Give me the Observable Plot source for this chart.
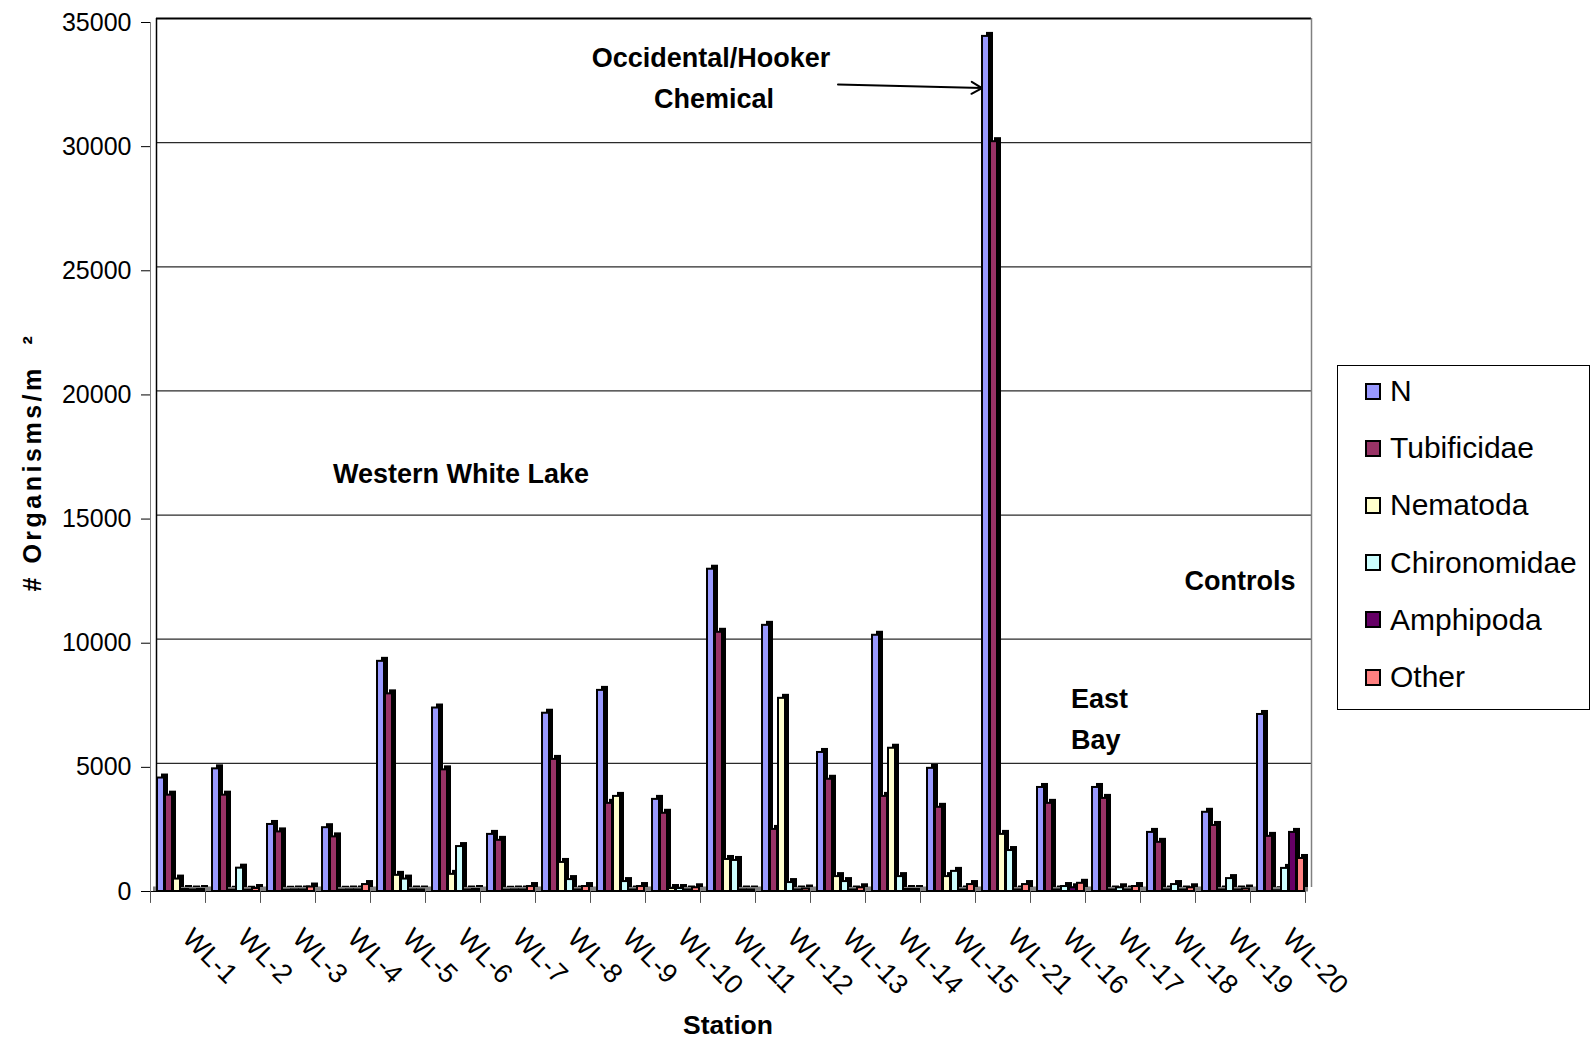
<!DOCTYPE html>
<html>
<head>
<meta charset="utf-8">
<script src="https://cdn.jsdelivr.net/npm/d3@7"></script>
<script src="https://cdn.jsdelivr.net/npm/@observablehq/plot@0.6"></script>
<style>
  body { margin: 0; background: #fff; font-family: "Liberation Sans", Arial, sans-serif; }
  #chart { position: relative; width: 1591px; height: 1048px; overflow: hidden; }
  #legend { position: absolute; left: 1337px; top: 365px; width: 253px; height: 345px;
            border: 1px solid #000; box-sizing: border-box; background: #fff; }
  .item { position: absolute; left: 0; height: 40px; display: flex; align-items: center; }
  .swatch { width: 12px; height: 13px; border: 2px solid #000; margin-left: 27px; margin-right: 9px; }
  .name { font-size: 30px; color: #000; line-height: 1; }
</style>
</head>
<body>
<div id="chart"><div id="legend"></div></div>
<script>
// Sampling stations, in the order they appear along the shoreline
const stations = ["WL-1", "WL-2", "WL-3", "WL-4", "WL-5", "WL-6", "WL-7", "WL-8", "WL-9", "WL-10",
  "WL-11", "WL-12", "WL-13", "WL-14", "WL-15", "WL-21", "WL-16", "WL-17", "WL-18", "WL-19", "WL-20"];

// Benthic densities, organisms per square metre
const totalN =       [4570, 4940, 2700, 2570, 9270, 7390, 2300, 7180, 8100, 3710, 12980, 10720, 5600, 10320, 4960, 34440, 4190, 4190, 2380, 3190, 7130];
const tubificidae =  [3880, 3880, 2400, 2200, 7960, 4900, 2060, 5320, 3550, 3150, 10440, 2500, 4520, 3830, 3390, 30200, 3550, 3750, 1980, 2660, 2220];
const nematoda =     [500, 50, 50, 50, 650, 690, 50, 1170, 3830, 120, 1290, 7780, 600, 5770, 600, 2300, 60, 60, 60, 60, 30];
const chironomidae = [80, 940, 60, 60, 500, 1810, 60, 480, 400, 120, 1250, 360, 400, 600, 810, 1650, 200, 150, 280, 520, 930];
const amphipoda =    [60, 50, 60, 60, 60, 60, 60, 60, 60, 60, 60, 60, 60, 80, 60, 60, 150, 60, 60, 60, 2380];
const other =        [80, 120, 180, 280, 60, 80, 200, 200, 200, 150, 60, 100, 150, 80, 280, 280, 330, 200, 150, 100, 1330];

const seriesNames = ["N", "Tubificidae", "Nematoda", "Chironomidae", "Amphipoda", "Other"];
const seriesValues = [totalN, tubificidae, nematoda, chironomidae, amphipoda, other];
const seriesColors = ["#9999FF", "#993366", "#FFFFCC", "#CCFFFF", "#660066", "#FF8080"];

const yTicks = [0, 5000, 10000, 15000, 20000, 25000, 30000, 35000];

// Long-format table: one row per station and taxon
const rows = stations.flatMap((station, j) =>
  seriesNames.map((series, i) => ({station, series, value: seriesValues[i][j]})));

// Geometry of the clustered columns inside each station band
const width = 1591, height = 1048;
const marginLeft = 150, marginRight = 286, marginTop = 22, marginBottom = 157;
const bandW = (width - marginLeft - marginRight) / stations.length;
const lead = 7, slot = 8, face = 7, depth = 4;

const marks = [
  // back-wall gridlines
  Plot.ruleY(yTicks.slice(1, -1), {stroke: "#2a2a2a", strokeWidth: 1.2, dx: 6, dy: -4}),
  Plot.ruleY([35000], {stroke: "#000", strokeWidth: 2, dx: 6, dy: -4}),
  // walls
  Plot.ruleX([stations[0]], {y1: 0, y2: 35000, dx: -bandW / 2 + 6, dy: -4, stroke: "#000", strokeWidth: 1.5}),
  Plot.ruleX([stations[stations.length - 1]], {y1: 0, y2: 35000, dx: bandW / 2 + 6, dy: -4, stroke: "#808080", strokeWidth: 1.5}),
  Plot.ruleX([stations[0]], {y1: 0, y2: 35000, dx: -bandW / 2, stroke: "#808080", strokeWidth: 1}),
  // floor
  Plot.ruleY([0], {stroke: "#808080", strokeWidth: 5, dx: 3, dy: -2.5}),
  Plot.ruleY([0], {stroke: "#000", strokeWidth: 1}),
  // category separators below the floor
  Plot.ruleX(stations, {y1: 0, y2: -480, dx: -bandW / 2, stroke: "#555"}),
  Plot.ruleX([stations[stations.length - 1]], {y1: 0, y2: -480, dx: bandW / 2, stroke: "#555"}),
  // slanted station labels
  Plot.text(stations, {x: d => d, y: 0, text: d => d, rotate: 45, textAnchor: "start", dx: 9, dy: 42, fontSize: 27, fill: "#000"})
];

// Columns: a dark extruded block behind each coloured face
seriesNames.forEach((name, i) => {
  const data = rows.filter(d => d.series === name);
  const insetLeft = lead + i * slot;
  const insetRight = bandW - insetLeft - face;
  marks.push(Plot.rectY(data, {x: "station", y: "value", fill: "#000", insetLeft, insetRight, dx: depth, dy: -depth}));
  marks.push(Plot.rectY(data, {x: "station", y: "value", fill: seriesColors[i], stroke: "#000", strokeWidth: 2, insetLeft, insetRight}));
});

// Annotations
const bold = {fontWeight: "bold", fontSize: 27, fill: "#000"};
marks.push(
  Plot.text([{x: "WL-11", y: 33550, t: "Occidental/Hooker"}], {x: "x", y: "y", text: "t", dx: -17, ...bold}),
  Plot.text([{x: "WL-11", y: 31900, t: "Chemical"}], {x: "x", y: "y", text: "t", dx: -14, ...bold}),
  Plot.arrow([{x1: "WL-13", y1: 32500, x2: "WL-21", y2: 32340}], {x1: "x1", y1: "y1", x2: "x2", y2: "y2", insetEnd: 21, stroke: "#000", strokeWidth: 2, headLength: 9}),
  Plot.text([{x: "WL-6", y: 16790, t: "Western White Lake"}], {x: "x", y: "y", text: "t", dx: 8, ...bold}),
  Plot.text([{x: "WL-19", y: 12480, t: "Controls"}], {x: "x", y: "y", text: "t", dx: 17, ...bold}),
  Plot.text([{x: "WL-16", y: 7730, t: "East"}], {x: "x", y: "y", text: "t", dx: 13, textAnchor: "start", ...bold}),
  Plot.text([{x: "WL-16", y: 6080, t: "Bay"}], {x: "x", y: "y", text: "t", dx: 13, textAnchor: "start", ...bold}),
  Plot.text(["Station"], {frameAnchor: "bottom", dy: 142, ...bold, fontSize: 26.5}),
  Plot.text(["# Organisms/m  \u00b2"], {frameAnchor: "left", textAnchor: "middle", rotate: -90, dx: -118, dy: 5, fontWeight: "bold", fontSize: 25, fill: "#000"})
);

const chart = Plot.plot({
  width, height, marginLeft, marginRight, marginTop, marginBottom,
  style: {fontFamily: "'Liberation Sans', Arial, sans-serif", fontSize: "25px", background: "white", overflow: "visible", color: "#000"},
  x: {domain: stations, padding: 0, axis: null},
  y: {domain: [0, 35000], ticks: yTicks, tickFormat: "d", tickSize: 9, tickPadding: 10, label: null},
  marks
});
document.getElementById("chart").prepend(chart);

// spaced lettering on the vertical axis title
d3.select(chart).selectAll("text")
  .filter(function() { return this.textContent.startsWith("#"); })
  .attr("letter-spacing", 3.5);

// Legend
const legend = d3.select("#legend");
seriesNames.forEach((name, i) => {
  const item = legend.append("div").attr("class", "item").style("top", (5 + i * 57.2) + "px");
  item.append("div").attr("class", "swatch").style("background", seriesColors[i]);
  item.append("div").attr("class", "name").text(name);
});
</script>
</body>
</html>
